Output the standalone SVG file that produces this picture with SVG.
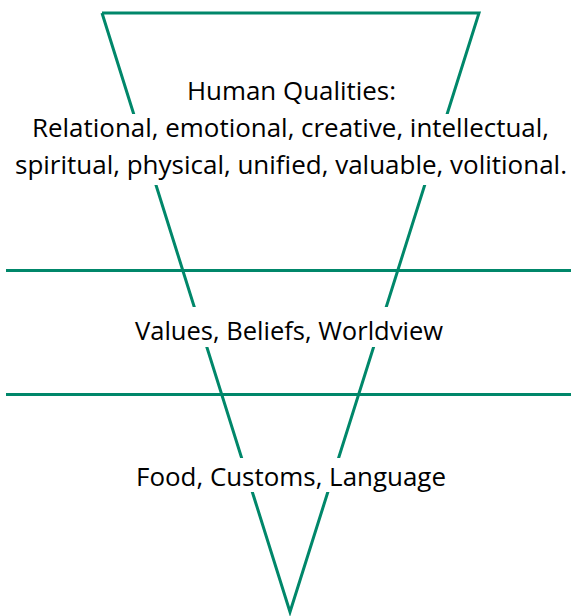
<svg xmlns="http://www.w3.org/2000/svg" width="571" height="616" viewBox="0 0 571 616">
<style>
.ln{stroke:#00876a;stroke-width:3;fill:none}
.t{font-family:"Open Sans","Noto Sans","Liberation Sans",sans-serif;font-size:26px;fill:#000;text-anchor:start}
.bg{fill:#fff}
</style>
<rect width="571" height="616" fill="#fff"/>
<g id="connectors">
<polyline class="ln" points="102,13 479,13 290,612 102,13" stroke-linejoin="miter"/>
<line class="ln" x1="6" y1="270.5" x2="571" y2="270.5"/>
<line class="ln" x1="6" y1="394.5" x2="571" y2="394.5"/>
</g>
<g id="top">
<rect class="bg" x="10" y="114" width="560" height="71"/>
<text class="t" x="187" y="100" textLength="209" lengthAdjust="spacingAndGlyphs">Human Qualities:</text>
<text class="t" x="32" y="137" textLength="517" lengthAdjust="spacingAndGlyphs">Relational, emotional, creative, intellectual,</text>
<text class="t" x="15" y="174" textLength="552" lengthAdjust="spacingAndGlyphs">spiritual, physical, unified, valuable, volitional.</text>
</g>
<g id="middle">
<rect class="bg" x="130" y="307" width="320" height="40"/>
<text class="t" x="135" y="340" textLength="308" lengthAdjust="spacingAndGlyphs">Values, Beliefs, Worldview</text>
</g>
<g id="bottom">
<rect class="bg" x="130" y="458" width="320" height="34"/>
<text class="t" x="136" y="486" textLength="310" lengthAdjust="spacingAndGlyphs">Food, Customs, Language</text>
</g>
</svg>
